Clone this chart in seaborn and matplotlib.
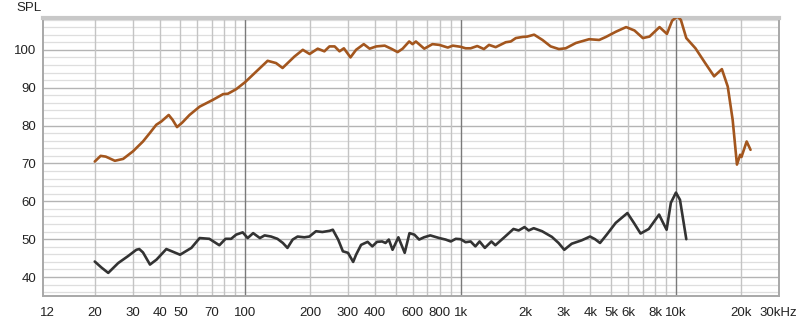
import matplotlib
matplotlib.use("Agg")
import matplotlib.pyplot as plt
from matplotlib.ticker import FixedLocator, FixedFormatter, MultipleLocator, NullFormatter
import seaborn as sns
import pandas as pd

# ---- data ----
spl_freq = [20, 21.3, 22.5, 24.8, 27.1, 30.1, 33.5, 36, 38.6, 40.8, 44.1, 46, 48.2, 51, 55.1,
            61.4, 70.8, 78.9, 83, 90.7, 100, 114.6, 127, 139, 149, 169, 185, 199, 217, 233,
            246, 260, 274, 287, 308, 327, 355, 378, 406, 444, 476, 510, 538, 577, 598, 620,
            678, 740, 796, 872, 920, 1000, 1055, 1113, 1195, 1283, 1355, 1455, 1620, 1710,
            1805, 1940, 2040, 2195, 2400, 2620, 2860, 3075, 3430, 3950, 4400, 4730, 5270,
            5870, 6420, 7020, 7540, 8390, 9080, 9600, 10150, 10540, 11170, 12320, 13670,
            15040, 16340, 17400, 18340, 19200, 19870, 20150, 21300, 22200]
spl_db = [70.5, 72.0, 71.8, 70.7, 71.2, 73.2, 75.8, 78.0, 80.2, 81.1, 82.8, 81.5, 79.6, 80.8, 82.8,
          85.0, 86.8, 88.3, 88.4, 89.6, 91.5, 94.7, 97.1, 96.5, 95.2, 98.2, 100.0, 98.9, 100.3, 99.6,
          100.9, 100.9, 99.6, 100.4, 98.0, 100.0, 101.5, 100.3, 100.9, 101.1, 100.3, 99.4, 100.3, 102.2, 101.5, 102.2,
          100.3, 101.5, 101.3, 100.6, 101.1, 100.8, 100.4, 100.4, 101.0, 100.2, 101.3, 100.7, 102.0, 102.2,
          103.1, 103.4, 103.5, 104.0, 102.6, 100.9, 100.2, 100.4, 101.8, 102.8, 102.6, 103.4, 104.8,
          106.0, 105.1, 103.1, 103.5, 106.0, 104.2, 107.7, 108.8, 107.9, 103.1, 100.4, 96.5,
          93.0, 94.9, 90.3, 81.5, 69.7, 72.3, 71.7, 75.8, 73.6]

dist_freq = [20, 21.5, 23.1, 25.7, 28.5, 31.2, 32.2, 33.5, 36.1, 38.7, 43.0, 49.8, 56.2, 61.4,
             68.1, 75.8, 81.0, 86, 90.7, 97.3, 102.6, 108.8, 116.9, 123, 131.7, 141, 149.5,
             157, 166, 175, 188, 198.5, 213, 228, 246, 255, 270, 284, 300, 317, 327, 345, 370,
             389, 409, 432, 448, 464, 483, 514, 550, 579, 610, 642, 676, 723, 796, 852, 900,
             950, 1000, 1055, 1113, 1171, 1225, 1296, 1390, 1450, 1610, 1760, 1860, 1980, 2070,
             2185, 2390, 2655, 2850, 3030, 3280, 3650, 3990, 4210, 4440, 4770, 5250, 5950,
             6380, 6850, 7480, 8350, 8650, 9050, 9470, 10000, 10440, 11170]
dist_db = [44.1, 42.5, 41.1, 43.7, 45.5, 47.2, 47.4, 46.5, 43.3, 44.6, 47.4, 45.9, 47.7, 50.3,
           50.1, 48.4, 50.1, 50.1, 51.2, 51.8, 50.3, 51.6, 50.3, 51.0, 50.7, 50.1, 49.0,
           47.7, 49.9, 50.7, 50.5, 50.7, 52.1, 51.9, 52.2, 52.5, 49.9, 46.8, 46.4, 44.0, 45.9, 48.5, 49.3,
           48.1, 49.3, 49.4, 49.0, 49.9, 47.2, 50.5, 46.4, 51.6, 51.2, 49.9, 50.5, 51.0, 50.3, 49.9, 49.4,
           50.1, 50.0, 49.2, 49.4, 48.1, 49.4, 47.7, 49.4, 48.4, 50.7, 52.7, 52.3, 53.2, 52.3,
           52.9, 52.1, 50.6, 49.0, 47.2, 48.8, 49.7, 50.7, 50.0, 49.0, 51.2, 54.3, 56.9,
           54.3, 51.5, 52.7, 56.5, 54.7, 52.5, 59.6, 62.3, 60.4, 50.0]

xtick_vals = [12, 20, 30, 40, 50, 70, 100, 200, 300, 400, 600, 800, 1000, 2000, 3000, 4000,
              5000, 6000, 8000, 10000, 20000, 30000]
xtick_labels = ["12", "20", "30", "40", "50", "70", "100", "200", "300", "400", "600", "800",
                "1k", "2k", "3k", "4k", "5k", "6k", "8k", "10k", "20k", "30kHz"]
xgrid_vals = [20, 30, 40, 50, 60, 70, 80, 90, 200, 300, 400, 500, 600, 700, 800, 900,
              2000, 3000, 4000, 5000, 6000, 7000, 8000, 9000, 20000]
xdecades = [100, 1000, 10000]
ytick_vals = [40, 50, 60, 70, 80, 90, 100]

# ---- figure ----
sns.set_style("white")
plt.rcParams["font.family"] = ["Liberation Sans", "DejaVu Sans"]

fig = plt.figure(figsize=(8.0, 3.21), dpi=100)
ax = fig.add_axes([43 / 800, 1 - 296 / 321, (779 - 43) / 800, (296 - 18) / 321])

df_spl = pd.DataFrame({"freq": spl_freq, "db": spl_db})
df_dist = pd.DataFrame({"freq": dist_freq, "db": dist_db})

sns.lineplot(data=df_spl, x="freq", y="db", ax=ax, color="#A3561E", lw=1.9,
             sort=False, estimator=None, zorder=5)
sns.lineplot(data=df_dist, x="freq", y="db", ax=ax, color="#333333", lw=1.9,
             sort=False, estimator=None, zorder=5)

ax.set_xscale("log")
ax.set_xlim(11.5, 30100)
ax.set_ylim(35.0, 108.4)

# x ticks / grid
ax.xaxis.set_major_locator(FixedLocator(xtick_vals))
ax.xaxis.set_major_formatter(FixedFormatter(xtick_labels))
ax.xaxis.set_minor_locator(FixedLocator([]))
ax.xaxis.set_minor_formatter(NullFormatter())
ax.grid(False)
for g in xgrid_vals:
    ax.axvline(g, color="#c4c4c4", lw=1.0, zorder=1)
for d in xdecades:
    ax.axvline(d, color="#7a7a7a", lw=1.0, zorder=2)

# y ticks / grid
ax.yaxis.set_major_locator(FixedLocator(ytick_vals))
ax.yaxis.set_minor_locator(MultipleLocator(2))
ax.grid(True, axis="y", which="major", color="#b4b4b4", lw=1.0, zorder=1)
ax.grid(True, axis="y", which="minor", color="#dedede", lw=0.9, zorder=1)
ax.set_axisbelow(True)

ax.tick_params(axis="both", which="both", length=0, labelsize=9.5, colors="#222222")
ax.tick_params(axis="x", pad=8)
ax.tick_params(axis="y", pad=5)
ax.set_xlabel("")
ax.set_ylabel("")

for s in ax.spines.values():
    s.set_color("#a8a8a8")
    s.set_linewidth(1.4)
ax.spines["top"].set_linewidth(3.0)
ax.spines["top"].set_color("#c8c8c8")

fig.text(16 / 800, 1 - 8 / 321, "SPL", fontsize=9.5, color="#222222", va="center", ha="left")

fig.savefig("out.png", dpi=100, facecolor="white")
